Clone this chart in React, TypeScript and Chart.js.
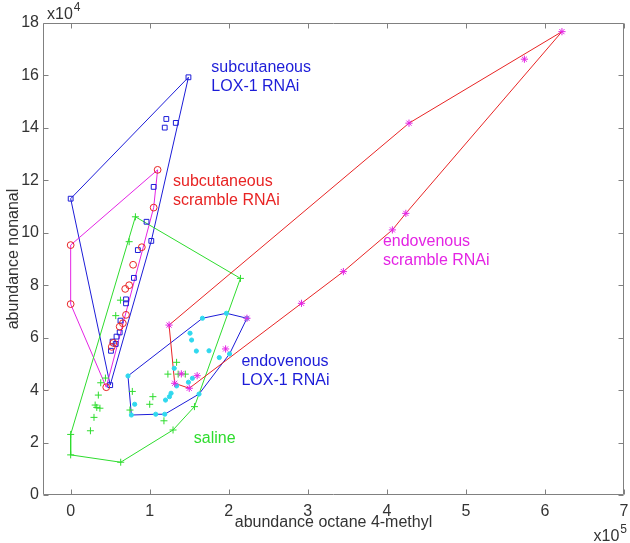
import React, { useEffect, useRef } from 'react';
import { Chart, registerables } from 'chart.js';

Chart.register(...registerables);

// axis ticks (x in units of 1e5, y in units of 1e4)
const xTicks = [0, 1, 2, 3, 4, 5, 6, 7];
const yTicks = [0, 2, 4, 6, 8, 10, 12, 14, 16, 18];
const xMin = -0.35;
const xMax = 7;
const yMin = 0;
const yMax = 18;

// subcutaneous LOX-1 RNAi (blue squares)
const subLoxX = [0, 1.49, 1.21, 1.19, 1.33, 1.05, 0.96, 1.02, 0.85, 0.8, 0.7, 0.7, 0.63, 0.62, 0.58, 0.53, 0.57, 0.51, 0.5];
const subLoxY = [11.3, 15.93, 14.34, 14.01, 14.19, 11.75, 10.42, 9.69, 9.34, 8.28, 7.46, 7.31, 6.65, 6.2, 6.04, 5.85, 5.76, 5.5, 4.19];
const subLoxHull = [0, 1, 7, 18];

// subcutaneous scramble RNAi (red circles, magenta hull)
const subScrX = [0, 0, 1.1, 1.05, 0.9, 0.79, 0.74, 0.69, 0.7, 0.62, 0.66, 0.54, 0.52, 0.45];
const subScrY = [9.53, 7.28, 12.4, 10.96, 9.45, 8.78, 8.0, 7.86, 6.87, 6.42, 6.55, 5.8, 5.65, 4.11];
const subScrHull = [0, 2, 3, 13, 1];

// saline (green plus)
const salX = [0, 0.633, 1.295, 1.566, 2.148, 0.819, 0, 0.74, 0.63, 0.57, 0.44, 0.38, 0.35, 0.31, 0.33, 0.37, 0.295, 0.25, 0.78, 0.75, 1.04, 1.0, 1.18, 1.34, 1.23, 1.36, 1.45];
const salY = [1.53, 1.25, 2.48, 3.37, 8.26, 10.61, 2.31, 9.66, 7.43, 6.84, 4.46, 4.28, 3.81, 3.43, 3.34, 3.31, 2.96, 2.45, 3.95, 3.24, 3.75, 3.46, 2.83, 5.06, 4.61, 4.61, 4.61];
const salHull = [0, 1, 2, 3, 4, 5, 6];

// endovenous LOX-1 RNAi (cyan dots, blue hull)
const evLoxX = [0.725, 0.768, 1.076, 1.19, 1.624, 2.01, 2.23, 1.97, 1.667, 1.51, 1.53, 1.59, 1.75, 1.88, 1.31, 1.54, 1.49, 1.34, 1.27, 1.25, 1.2, 0.81];
const evLoxY = [4.54, 3.05, 3.08, 3.08, 3.85, 5.38, 6.74, 6.93, 6.74, 6.17, 5.91, 5.49, 5.5, 5.24, 4.83, 4.45, 4.3, 4.16, 3.88, 3.75, 3.62, 3.46];
const evLoxHull = [0, 1, 2, 3, 4, 5, 6, 7, 8];

// endovenous scramble RNAi (magenta stars, red hull)
const evScrX = [1.245, 4.28, 6.215, 4.24, 4.07, 3.45, 2.92, 1.5, 1.316, 5.74, 1.4, 1.6, 1.96, 2.23];
const evScrY = [6.48, 14.18, 17.67, 10.74, 10.11, 8.52, 7.31, 4.07, 4.26, 16.62, 4.62, 4.55, 5.57, 6.74];
const evScrHull = [0, 1, 2, 3, 4, 5, 6, 7, 8];

// group labels
const labelLines = [
  ['subcutaneous', 'LOX-1 RNAi'],
  ['subcutaneous', 'scramble RNAi'],
  ['endovenous', 'scramble RNAi'],
  ['endovenous', 'LOX-1 RNAi'],
  ['saline'],
];
const labelX = [1.78, 1.295, 3.95, 2.16, 1.557];
const labelY = [16.3, 11.95, 9.66, 5.08, 2.16];

const BLUE = '#1c1cd8';
const RED = '#e82424';
const MAGENTA = '#e424e4';
const GREEN = '#2edc2e';
const CYAN = '#30d8ee';
const labelColors = [BLUE, RED, MAGENTA, BLUE, GREEN];

const FONT = '"Liberation Sans", Arial, Helvetica, sans-serif';
const TEXT = '#333333';

const pts = (xs: number[], ys: number[]) => xs.map((x, i) => ({ x, y: ys[i] }));
const hull = (xs: number[], ys: number[], idx: number[]) => {
  const p = idx.map((i) => ({ x: xs[i], y: ys[i] }));
  p.push({ ...p[0] });
  return p;
};

const framePlugin = {
  id: 'frame',
  afterDatasetsDraw(chart: any) {
    const { ctx, chartArea: a, scales } = chart;
    const sx = scales.x;
    const sy = scales.y;
    ctx.save();
    ctx.strokeStyle = '#808080';
    ctx.lineWidth = 1;
    const L = Math.round(a.left) + 0.5;
    const R = Math.round(a.right) - 0.5;
    const T = Math.round(a.top) + 0.5;
    const B = Math.round(a.bottom) - 0.5;
    ctx.beginPath();
    ctx.rect(L, T, R - L, B - T);
    const tl = 5;
    xTicks.forEach((v) => {
      const px = Math.round(sx.getPixelForValue(v)) + 0.5;
      ctx.moveTo(px, B);
      ctx.lineTo(px, B - tl);
      ctx.moveTo(px, T);
      ctx.lineTo(px, T + tl);
    });
    yTicks.forEach((v) => {
      const py = Math.round(sy.getPixelForValue(v)) + 0.5;
      ctx.moveTo(L, py);
      ctx.lineTo(L + tl, py);
      ctx.moveTo(R, py);
      ctx.lineTo(R - tl, py);
    });
    ctx.stroke();

    // group labels
    ctx.font = `16px ${FONT}`;
    ctx.textAlign = 'left';
    ctx.textBaseline = 'middle';
    labelLines.forEach((lines, i) => {
      ctx.fillStyle = labelColors[i];
      const px = sx.getPixelForValue(labelX[i]);
      const py = sy.getPixelForValue(labelY[i]);
      lines.forEach((t, j) => ctx.fillText(t, px, py + j * 19));
    });

    // exponent labels
    ctx.fillStyle = TEXT;
    ctx.textBaseline = 'middle';
    ctx.font = `16px ${FONT}`;
    ctx.textAlign = 'left';
    const ex = a.left + 4;
    ctx.fillText('x10', ex, a.top - 8);
    const w = ctx.measureText('x10').width;
    ctx.font = `12px ${FONT}`;
    ctx.fillText('4', ex + w + 1, a.top - 15);

    ctx.font = `12px ${FONT}`;
    ctx.textAlign = 'right';
    const rx = a.right + 3;
    ctx.fillText('5', rx, a.bottom + 35);
    const w5 = ctx.measureText('5').width;
    ctx.font = `16px ${FONT}`;
    ctx.fillText('x10', rx - w5 - 1, a.bottom + 42);
    ctx.restore();
  },
};

export default function App() {
  const ref = useRef<HTMLCanvasElement | null>(null);
  useEffect(() => {
    if (!ref.current) return;
    const pointSet = (label: string, data: any[], style: string, r: number, color: string, fill: string) => ({
      label,
      data,
      showLine: false,
      pointStyle: style,
      pointRadius: r,
      pointBorderWidth: 1,
      borderColor: color,
      backgroundColor: fill,
      pointBorderColor: color,
      pointBackgroundColor: fill,
    });
    const hullSet = (label: string, data: any[], color: string) => ({
      label,
      data,
      showLine: true,
      pointRadius: 0,
      borderWidth: 1,
      borderColor: color,
      backgroundColor: color,
      fill: false,
      tension: 0,
    });
    const zeroPad = (s: any) => {
      s.paddingLeft = 0;
      s.paddingRight = 0;
      s.paddingTop = 0;
      s.paddingBottom = 0;
    };
    const chart = new Chart(ref.current, {
      type: 'scatter',
      data: {
        datasets: [
          pointSet('endovenous scramble RNAi', pts(evScrX, evScrY), 'star', 3.6, MAGENTA, MAGENTA),
          pointSet('endovenous LOX-1 RNAi', pts(evLoxX, evLoxY), 'circle', 2.1, CYAN, CYAN),
          pointSet('saline', pts(salX, salY), 'cross', 3.5, GREEN, GREEN),
          pointSet('subcutaneous scramble RNAi', pts(subScrX, subScrY), 'circle', 3.4, RED, 'rgba(0,0,0,0)'),
          pointSet('subcutaneous LOX-1 RNAi', pts(subLoxX, subLoxY), 'rect', 3.4, BLUE, 'rgba(0,0,0,0)'),
          hullSet('endovenous scramble hull', hull(evScrX, evScrY, evScrHull), RED),
          hullSet('endovenous LOX-1 hull', hull(evLoxX, evLoxY, evLoxHull), BLUE),
          hullSet('saline hull', hull(salX, salY, salHull), GREEN),
          hullSet('subcutaneous scramble hull', hull(subScrX, subScrY, subScrHull), MAGENTA),
          hullSet('subcutaneous LOX-1 hull', hull(subLoxX, subLoxY, subLoxHull), BLUE),
        ],
      },
      options: {
        responsive: false,
        animation: false,
        events: [],
        layout: { padding: { top: 23, right: 6, left: 0, bottom: 0 } },
        plugins: {
          legend: { display: false },
          tooltip: { enabled: false },
        },
        scales: {
          x: {
            type: 'linear',
            min: xMin,
            max: xMax,
            bounds: 'data',
            grid: { display: false, drawTicks: false },
            border: { display: false },
            afterBuildTicks: (s: any) => {
              s.ticks = xTicks.map((v) => ({ value: v }));
            },
            afterFit: (s: any) => {
              s.height = 48;
              zeroPad(s);
            },
            ticks: {
              padding: 7,
              color: TEXT,
              font: { family: FONT, size: 16 },
              maxRotation: 0,
              autoSkip: false,
              callback: (v: any) => String(v),
            },
            title: {
              display: true,
              text: 'abundance octane 4-methyl',
              color: TEXT,
              font: { family: FONT, size: 16 },
              padding: { top: 0, bottom: 11 },
            },
          },
          y: {
            type: 'linear',
            min: yMin,
            max: yMax,
            bounds: 'data',
            grid: { display: false, drawTicks: false },
            border: { display: false },
            afterBuildTicks: (s: any) => {
              s.ticks = yTicks.map((v) => ({ value: v }));
            },
            afterFit: (s: any) => {
              s.width = 43;
              zeroPad(s);
            },
            ticks: {
              padding: 4,
              color: TEXT,
              font: { family: FONT, size: 16 },
              autoSkip: false,
              callback: (v: any) => String(v),
            },
            title: {
              display: true,
              text: 'abundance nonanal',
              color: TEXT,
              font: { family: FONT, size: 16 },
              padding: { top: 4, bottom: 0 },
            },
          },
        },
      },
      plugins: [framePlugin],
    });
    return () => chart.destroy();
  }, []);
  return (
    <div style={{ position: 'absolute', left: 0, top: 0, width: 630, height: 543, background: '#fff' }}>
      <canvas ref={ref} width={630} height={543} style={{ display: 'block', width: 630, height: 543 }} />
    </div>
  );
}
